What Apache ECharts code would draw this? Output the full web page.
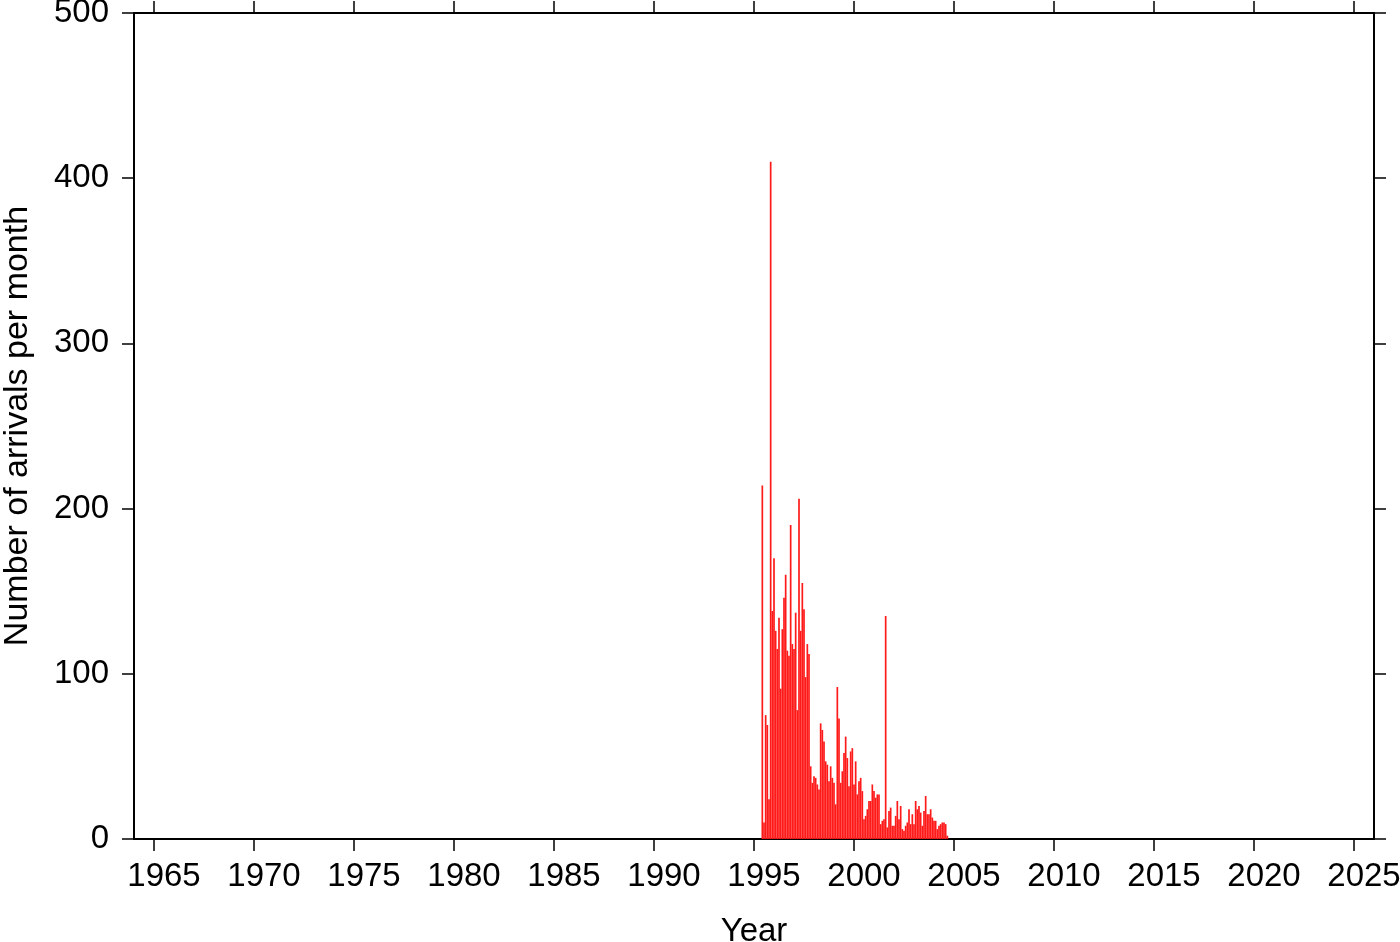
<!DOCTYPE html>
<html>
<head>
<meta charset="utf-8">
<script src="https://cdn.jsdelivr.net/npm/echarts@6/dist/echarts.min.js"></script>
<style>
  html, body { margin: 0; padding: 0; background: #fff; }
  #chart { width: 1400px; height: 942px; }
</style>
</head>
<body>
<div id="chart"></div>
<script>
// Monthly arrival counts, starting June 1995 (one value per month)
const startYear = 1995;
const startMonth = 6;
const arrivals = [
  214, 10, 75, 69, 24, 410, 138, 170, 126, 115, 134, 91, 127, 146, 160, 114,
  111, 190, 118, 115, 137, 78, 206, 126, 155, 139, 98, 118, 112, 44, 34, 38,
  37, 33, 30, 70, 66, 59, 47, 45, 35, 44, 37, 34, 21, 92, 73, 34,
  41, 52, 62, 49, 32, 53, 55, 33, 47, 27, 35, 37, 29, 12,
  14, 18, 23, 23, 33, 29, 25, 27, 27, 9, 11, 12, 135, 7, 17, 19,
  8, 8, 14, 23, 12, 20, 6, 5, 8, 10, 18,
  9, 15, 9, 23, 18, 20, 16, 8, 17, 26, 15, 15, 18, 13, 11, 11,
  6, 8, 9, 10, 10, 9, 2
];
const yearTicks = [1965, 1970, 1975, 1980, 1985, 1990, 1995, 2000, 2005, 2010, 2015, 2020, 2025];
const xRange = [1964, 2026];
const yRange = [0, 500];
const yStep = 100;
const xTitle = 'Year';
const yTitle = 'Number of arrivals per month';

const seriesData = arrivals.map((v, i) => [startYear + (startMonth - 1 + i) / 12, v]);

const FONT = '"Liberation Sans", Arial, Helvetica, sans-serif';
const axisLine = { show: true, onZero: false, lineStyle: { color: '#000', width: 2 } };
const tickStyle = { color: '#000', width: 1.5 };

const chart = echarts.init(document.getElementById('chart'), null, { renderer: 'canvas' });
chart.setOption({
  animation: false,
  backgroundColor: '#fff',
  grid: { left: 134, right: 26, top: 13, bottom: 103, containLabel: false, outerBoundsMode: 'none' },
  xAxis: [
    {
      type: 'value', position: 'bottom', min: xRange[0], max: xRange[1],
      axisLine: axisLine,
      axisTick: { show: true, inside: false, length: 12, lineStyle: tickStyle, customValues: yearTicks },
      axisLabel: { show: true, customValues: yearTicks, fontSize: 33, fontFamily: FONT, color: '#000', margin: 21, padding: [0, 0, 0, 20], formatter: v => String(v) },
      splitLine: { show: false },
      name: xTitle, nameLocation: 'middle', nameGap: 76,
      nameTextStyle: { fontSize: 33, fontFamily: FONT, color: '#000' }
    },
    {
      type: 'value', position: 'top', min: xRange[0], max: xRange[1],
      axisLine: axisLine,
      axisTick: { show: true, inside: false, length: 12, lineStyle: tickStyle, customValues: yearTicks },
      axisLabel: { show: false },
      splitLine: { show: false }
    }
  ],
  yAxis: [
    {
      type: 'value', position: 'left', min: yRange[0], max: yRange[1], interval: yStep,
      axisLine: axisLine,
      axisTick: { show: true, inside: false, length: 12, lineStyle: tickStyle },
      axisLabel: { show: true, fontSize: 33, fontFamily: FONT, color: '#000', margin: 25 },
      splitLine: { show: false },
      name: yTitle, nameLocation: 'middle', nameGap: 99,
      nameTextStyle: { fontSize: 34, fontFamily: FONT, color: '#000' }
    },
    {
      type: 'value', position: 'right', min: yRange[0], max: yRange[1], interval: yStep,
      axisLine: axisLine,
      axisTick: { show: true, inside: false, length: 12, lineStyle: tickStyle },
      axisLabel: { show: false },
      splitLine: { show: false }
    }
  ],
  series: [
    {
      type: 'bar', xAxisIndex: 0, yAxisIndex: 0,
      data: seriesData,
      barWidth: 1.7,
      itemStyle: { color: '#ff1a1a' },
      silent: true
    }
  ]
});
</script>
</body>
</html>
